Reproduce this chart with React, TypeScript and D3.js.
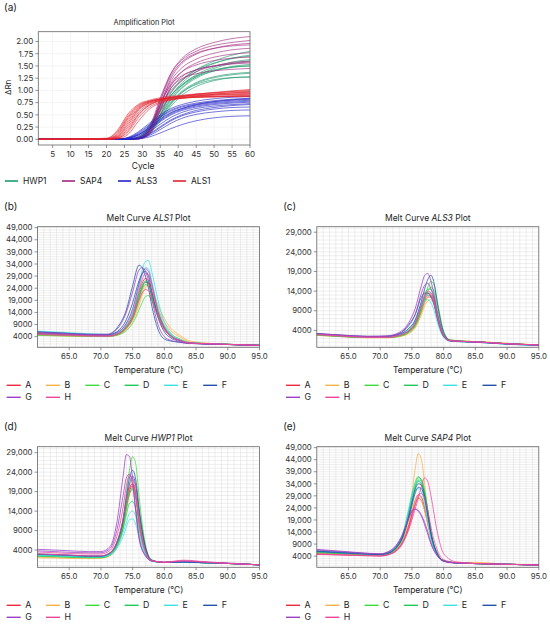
import * as d3 from "d3";

const FONT = "Inter, 'Noto Sans', Arial, sans-serif";

// ---------- (a) Amplification plot ----------
const CYCLES = [1, 20, 23, 26, 29, 32, 35, 38, 41, 45, 50, 55, 60];

const HWP1_RUNS = [
  [0, 0, 0, 0, 0.04, 0.25, 0.6, 0.9, 1.1, 1.28, 1.4, 1.47, 1.5],
  [0, 0, 0, 0, 0.03, 0.2, 0.52, 0.85, 1.1, 1.32, 1.48, 1.58, 1.63],
  [0, 0, 0, 0, 0.05, 0.3, 0.68, 1.0, 1.22, 1.42, 1.56, 1.65, 1.7],
  [0, 0, 0, 0, 0.02, 0.16, 0.45, 0.76, 0.98, 1.16, 1.28, 1.34, 1.37],
  [0, 0, 0, 0, 0.03, 0.22, 0.56, 0.9, 1.15, 1.38, 1.55, 1.66, 1.72],
  [0, 0, 0, 0, 0.01, 0.12, 0.38, 0.68, 0.9, 1.08, 1.2, 1.26, 1.28],
  [0, 0, 0, 0, 0.04, 0.27, 0.64, 0.97, 1.2, 1.42, 1.6, 1.72, 1.8],
  [0, 0, 0, 0, 0.02, 0.18, 0.48, 0.8, 1.04, 1.25, 1.4, 1.49, 1.53],
  [0, 0, 0, 0, 0.03, 0.24, 0.58, 0.9, 1.12, 1.3, 1.42, 1.48, 1.5],
  [0, 0, 0, 0, 0.01, 0.14, 0.42, 0.72, 0.95, 1.14, 1.26, 1.32, 1.35],
  [0, 0, 0, 0, 0.03, 0.2, 0.5, 0.82, 1.06, 1.28, 1.45, 1.55, 1.6],
  [0, 0, 0, 0, 0.02, 0.15, 0.44, 0.74, 0.96, 1.12, 1.22, 1.26, 1.27],
];

const SAP4_RUNS = [
  [0, 0, 0, 0, 0.02, 0.2, 0.8, 1.35, 1.65, 1.85, 1.98, 2.06, 2.1],
  [0, 0, 0, 0, 0.03, 0.25, 0.85, 1.35, 1.62, 1.8, 1.92, 1.98, 2.02],
  [0, 0, 0, 0, 0.01, 0.15, 0.7, 1.25, 1.55, 1.74, 1.86, 1.93, 1.96],
  [0, 0, 0, 0, 0.02, 0.2, 0.78, 1.3, 1.58, 1.76, 1.86, 1.91, 1.93],
  [0, 0, 0, 0, 0.02, 0.18, 0.72, 1.2, 1.46, 1.64, 1.76, 1.83, 1.86],
  [0, 0, 0, 0, 0.01, 0.12, 0.6, 1.1, 1.38, 1.56, 1.68, 1.74, 1.77],
  [0, 0, 0, 0, 0.02, 0.2, 0.7, 1.15, 1.38, 1.52, 1.61, 1.66, 1.68],
  [0, 0, 0, 0, 0.01, 0.14, 0.6, 1.05, 1.28, 1.42, 1.5, 1.54, 1.56],
  [0, 0, 0, 0, 0.02, 0.18, 0.65, 1.05, 1.24, 1.34, 1.4, 1.43, 1.45],
  [0, 0, 0, 0, 0.03, 0.22, 0.72, 1.12, 1.3, 1.42, 1.5, 1.55, 1.58],
  [0, 0, 0, 0, 0.01, 0.1, 0.5, 0.95, 1.2, 1.38, 1.5, 1.57, 1.6],
];

const ALS3_RUNS = [
  [0, 0, 0, 0.02, 0.1, 0.25, 0.42, 0.55, 0.63, 0.7, 0.75, 0.78, 0.8],
  [0, 0, 0, 0.03, 0.14, 0.3, 0.47, 0.6, 0.68, 0.74, 0.79, 0.82, 0.84],
  [0, 0, 0, 0.01, 0.07, 0.2, 0.36, 0.5, 0.59, 0.66, 0.71, 0.74, 0.76],
  [0, 0, 0, 0.04, 0.16, 0.33, 0.5, 0.63, 0.71, 0.78, 0.83, 0.86, 0.88],
  [0, 0, 0, 0.02, 0.09, 0.22, 0.38, 0.52, 0.61, 0.68, 0.73, 0.76, 0.78],
  [0, 0, 0, 0.01, 0.05, 0.16, 0.31, 0.45, 0.55, 0.63, 0.68, 0.71, 0.73],
  [0, 0, 0, 0.03, 0.12, 0.28, 0.45, 0.58, 0.66, 0.72, 0.77, 0.8, 0.82],
  [0, 0, 0, 0, 0.03, 0.12, 0.26, 0.4, 0.5, 0.59, 0.65, 0.69, 0.71],
  [0, 0, 0, 0.02, 0.1, 0.24, 0.4, 0.54, 0.63, 0.71, 0.77, 0.81, 0.83],
  [0, 0, 0, 0, 0.01, 0.05, 0.13, 0.22, 0.3, 0.38, 0.44, 0.47, 0.48],
  [0, 0, 0, 0, 0.02, 0.08, 0.2, 0.33, 0.43, 0.51, 0.56, 0.59, 0.6],
  [0, 0, 0, 0, 0.02, 0.1, 0.24, 0.38, 0.48, 0.56, 0.62, 0.65, 0.66],
];

const ALS1_RUNS = [
  [0, 0.01, 0.12, 0.45, 0.68, 0.78, 0.83, 0.86, 0.88, 0.9, 0.92, 0.93, 0.94],
  [0, 0.02, 0.18, 0.52, 0.72, 0.8, 0.85, 0.88, 0.9, 0.93, 0.95, 0.97, 0.98],
  [0, 0, 0.08, 0.38, 0.64, 0.76, 0.81, 0.84, 0.86, 0.88, 0.9, 0.91, 0.92],
  [0, 0, 0.05, 0.3, 0.6, 0.75, 0.82, 0.86, 0.89, 0.92, 0.95, 0.98, 1.0],
  [0, 0, 0.03, 0.22, 0.52, 0.7, 0.78, 0.82, 0.85, 0.87, 0.88, 0.89, 0.9],
  [0, 0, 0.02, 0.15, 0.45, 0.66, 0.76, 0.81, 0.84, 0.86, 0.87, 0.88, 0.88],
  [0, 0.01, 0.1, 0.42, 0.66, 0.77, 0.82, 0.85, 0.87, 0.89, 0.91, 0.92, 0.93],
  [0, 0, 0.01, 0.1, 0.38, 0.62, 0.74, 0.8, 0.84, 0.88, 0.92, 0.95, 0.97],
  [0, 0.02, 0.15, 0.48, 0.7, 0.78, 0.82, 0.84, 0.85, 0.86, 0.87, 0.87, 0.87],
  [0, 0, 0.04, 0.26, 0.56, 0.72, 0.8, 0.85, 0.88, 0.91, 0.93, 0.95, 0.96],
  [0, 0, 0.02, 0.18, 0.5, 0.7, 0.8, 0.85, 0.88, 0.92, 0.96, 0.99, 1.02],
  [0, 0.01, 0.06, 0.34, 0.62, 0.74, 0.79, 0.82, 0.84, 0.86, 0.87, 0.88, 0.89],
];

const AMP_GENES = ["HWP1", "SAP4", "ALS3", "ALS1"];
const AMP_COLORS = ["#1d9a6c", "#a3267f", "#2424c8", "#e2232f"];
const AMP_RUNS = [HWP1_RUNS, SAP4_RUNS, ALS3_RUNS, ALS1_RUNS];
const AMP_X_TICKS = [5, 10, 15, 20, 25, 30, 35, 40, 45, 50, 55, 60];
const AMP_Y_TICKS = [0, 0.25, 0.5, 0.75, 1, 1.25, 1.5, 1.75, 2];

// ---------- (b)-(e) Melt curves (values in thousands) ----------
const SAMPLES = ["A", "B", "C", "D", "E", "F", "G", "H"];
const SAMPLE_COLORS = ["#ee2a3a", "#f7b24a", "#3ddc3d", "#22c95a", "#3fe2e2", "#2452a8", "#9b3fc4", "#f0479d"];
const CURVE_SAMPLE = [0, 0, 1, 1, 2, 2, 3, 3, 4, 4, 5, 5, 6, 6, 7, 7];

const TEMPS_ALS1 = [60, 64, 68, 71, 72.5, 74, 75, 76, 76.5, 77, 77.5, 78, 79, 80, 81, 82.5, 84, 88, 95];
const MELT_ALS1 = [
  [5.2, 4.8, 4.4, 4.3, 5.0, 8, 12.5, 22, 26, 28, 27, 22, 13, 7.5, 4.5, 2.5, 1.4, 1.0, 0.4],
  [5.0, 4.6, 4.3, 4.2, 4.8, 7.5, 11.5, 20, 24, 26.5, 26, 21.5, 12.5, 7, 4.2, 2.4, 1.4, 1.0, 0.4],
  [4.6, 4.3, 4.1, 4.1, 4.6, 7, 10.5, 17, 21, 24, 25, 23, 17, 11.5, 7.5, 4.5, 2.2, 1.1, 0.4],
  [4.8, 4.4, 4.2, 4.2, 4.7, 7.3, 11, 18, 22.5, 25, 25.5, 22.5, 15.5, 10, 6.5, 3.8, 1.8, 1.0, 0.4],
  [4.5, 4.3, 4.1, 4.0, 4.5, 6.5, 9.5, 15, 18, 20.5, 21, 19, 13.5, 8.5, 5.2, 3, 1.6, 1.0, 0.4],
  [5.0, 4.6, 4.3, 4.2, 4.8, 7.5, 11.5, 19.5, 23.5, 25.5, 25, 21, 12.5, 7.3, 4.3, 2.4, 1.4, 1.0, 0.4],
  [5.3, 4.9, 4.5, 4.4, 5.1, 8.2, 12.5, 21, 25, 27, 26.5, 22, 13.5, 7.7, 4.6, 2.5, 1.4, 1.0, 0.4],
  [5.1, 4.7, 4.4, 4.3, 5.0, 8, 12, 20.5, 24.5, 26.5, 26, 21.5, 13, 7.5, 4.4, 2.5, 1.4, 1.0, 0.4],
  [6.3, 5.8, 5.2, 4.9, 5.8, 9.5, 15, 26, 31.5, 35, 35.5, 31, 19, 10, 5.5, 2.8, 1.5, 1.0, 0.4],
  [6.0, 5.5, 5.0, 4.7, 5.5, 9, 14, 24, 29.5, 32.5, 32, 27, 16, 8.5, 4.8, 2.5, 1.4, 1.0, 0.4],
  [5.6, 5.2, 4.8, 4.7, 6, 11, 18, 27, 30, 31, 29, 23, 12, 6, 3.5, 2, 1.3, 0.9, 0.4],
  [6.0, 5.5, 5.0, 5.0, 7.5, 15, 25, 33.5, 32.5, 29, 24, 17, 7, 3, 2.2, 1.6, 1.2, 0.9, 0.4],
  [5.5, 5.1, 4.6, 4.5, 5.6, 9.5, 15.5, 25.5, 30, 32, 31, 26, 14.5, 7.5, 4.2, 2.3, 1.3, 0.9, 0.4],
  [5.9, 5.4, 4.9, 4.9, 7, 14, 22.5, 31.5, 32.5, 31, 27, 20, 9, 4, 2.5, 1.7, 1.2, 0.9, 0.4],
  [5.2, 4.8, 4.4, 4.3, 5.2, 8.5, 13.5, 23, 27.5, 30, 29.5, 25, 14.5, 8, 4.5, 2.5, 1.4, 1.0, 0.4],
  [4.9, 4.5, 4.2, 4.1, 4.8, 7.5, 11.5, 19, 22, 23.5, 23, 19.5, 12, 7, 4.2, 2.4, 1.4, 1.0, 0.4],
];

const TEMPS_ALS3 = [60, 64, 68, 71, 73, 74.5, 75.5, 76.5, 77, 77.5, 78, 78.5, 79, 80, 81, 83, 86, 90, 95];
const MELT_ALS3 = [
  [3.0, 2.6, 2.3, 2.3, 2.7, 3.8, 5.5, 9.5, 11.8, 13, 12.8, 11, 7.5, 2.6, 1.4, 1.2, 1.0, 0.6, 0.3],
  [2.9, 2.5, 2.2, 2.2, 2.6, 3.6, 5.2, 9, 11.2, 12.5, 12.5, 10.8, 7.5, 2.7, 1.4, 1.2, 1.0, 0.6, 0.3],
  [2.7, 2.4, 2.1, 2.1, 2.4, 3.2, 4.6, 8, 10.2, 11.5, 11.8, 10.5, 7.5, 2.8, 1.5, 1.3, 1.1, 0.7, 0.3],
  [2.8, 2.5, 2.2, 2.2, 2.5, 3.4, 4.9, 8.6, 11, 12.5, 13, 11.8, 8.5, 3.2, 1.6, 1.3, 1.1, 0.7, 0.3],
  [2.9, 2.5, 2.2, 2.2, 2.6, 3.6, 5.3, 9.5, 12.5, 15, 16.5, 15.5, 11.5, 3.8, 1.6, 1.3, 1.0, 0.6, 0.3],
  [2.8, 2.4, 2.2, 2.2, 2.5, 3.5, 5, 9, 11.8, 14, 15, 14, 10, 3.3, 1.5, 1.2, 1.0, 0.6, 0.3],
  [3.0, 2.6, 2.3, 2.3, 2.8, 4.0, 6, 10.5, 13, 14.5, 14.5, 12.5, 8.5, 2.8, 1.4, 1.2, 1.0, 0.6, 0.3],
  [2.9, 2.5, 2.2, 2.2, 2.7, 3.8, 5.6, 9.8, 12.2, 13.5, 13.5, 11.8, 8, 2.7, 1.4, 1.2, 1.0, 0.6, 0.3],
  [3.1, 2.7, 2.4, 2.4, 2.9, 4.2, 6.2, 10, 11.5, 11.8, 11, 9, 6, 2.2, 1.3, 1.1, 0.9, 0.5, 0.2],
  [3.0, 2.6, 2.3, 2.4, 3.0, 4.5, 6.8, 11, 12.5, 13, 12.5, 10.5, 7, 2.4, 1.3, 1.1, 0.9, 0.5, 0.2],
  [3.2, 2.8, 2.5, 2.5, 3.2, 5.5, 8, 12.5, 13.5, 13.5, 12.5, 10.5, 7, 2.4, 1.3, 1.1, 0.9, 0.5, 0.2],
  [3.1, 2.7, 2.4, 2.5, 3.0, 4.5, 6.5, 11.5, 14.5, 17, 18, 16, 11, 3.5, 1.5, 1.2, 1.0, 0.6, 0.3],
  [3.2, 2.8, 2.5, 2.6, 3.5, 6, 9.5, 15.5, 18, 18.5, 16.5, 13, 8.5, 2.8, 1.4, 1.2, 1.0, 0.6, 0.3],
  [3.1, 2.7, 2.4, 2.5, 3.2, 5.2, 8, 13.5, 15.5, 16, 14.5, 12, 8, 2.7, 1.4, 1.2, 1.0, 0.6, 0.3],
  [2.9, 2.5, 2.2, 2.2, 2.7, 3.8, 5.6, 10, 12.5, 13.5, 13, 11, 7.5, 2.6, 1.4, 1.2, 1.0, 0.6, 0.3],
  [3.0, 2.6, 2.3, 2.3, 2.8, 4.0, 6, 10.5, 13, 14, 13.5, 11.5, 7.8, 2.7, 1.4, 1.2, 1.0, 0.6, 0.3],
];

const TEMPS_HWP1 = [60, 64, 68, 70, 71.5, 72.5, 73.5, 74, 74.5, 75, 75.5, 76, 77, 78, 80, 83, 87, 91, 95];
const MELT_HWP1 = [
  [2.8, 2.5, 2.3, 2.3, 3.2, 5.5, 11, 15.5, 19.5, 21, 18.5, 12, 4, 1.3, 0.8, 0.9, 0.7, 0.5, 0.2],
  [2.6, 2.4, 2.2, 2.2, 3.0, 5.2, 10.5, 15, 19, 20.5, 18, 11.5, 3.8, 1.3, 0.8, 0.9, 0.7, 0.5, 0.2],
  [2.0, 1.9, 1.8, 1.9, 2.6, 4.5, 9.5, 14, 18, 20, 18.5, 13, 4.5, 1.4, 0.8, 0.9, 0.7, 0.5, 0.2],
  [2.2, 2.0, 1.9, 2.0, 2.8, 5.0, 10.5, 15.5, 20, 22, 20, 14, 4.8, 1.4, 0.8, 0.9, 0.7, 0.5, 0.2],
  [2.5, 2.3, 2.1, 2.1, 2.9, 5.5, 12, 18.5, 24.5, 28, 26, 18, 5.5, 1.5, 0.8, 0.9, 0.7, 0.5, 0.2],
  [2.4, 2.2, 2.0, 2.0, 2.7, 4.8, 10, 14.5, 18.5, 20, 18, 12, 4, 1.3, 0.8, 0.9, 0.7, 0.5, 0.2],
  [2.6, 2.4, 2.2, 2.2, 3.0, 5.3, 10.5, 15, 18.5, 19.5, 17, 11, 3.8, 1.3, 0.8, 0.9, 0.7, 0.5, 0.2],
  [2.5, 2.3, 2.1, 2.1, 2.9, 5.0, 9.5, 13, 16, 16.5, 14.5, 9.5, 3.4, 1.2, 0.8, 0.9, 0.7, 0.5, 0.2],
  [2.7, 2.5, 2.3, 2.3, 3.0, 4.8, 8.5, 11, 13.5, 14, 12.5, 8.5, 3.0, 1.2, 0.8, 0.8, 0.7, 0.5, 0.2],
  [2.6, 2.4, 2.2, 2.2, 2.8, 4.4, 7.5, 9.8, 11.8, 12, 10.5, 7.5, 2.8, 1.1, 0.8, 0.8, 0.7, 0.5, 0.2],
  [3.0, 2.8, 2.5, 2.5, 3.4, 6, 12, 17.5, 22.5, 24.5, 22, 15, 5, 1.4, 0.8, 0.9, 0.7, 0.5, 0.2],
  [2.9, 2.7, 2.4, 2.4, 3.3, 5.8, 11.5, 16.5, 21, 23, 20.5, 14, 4.6, 1.4, 0.8, 0.9, 0.7, 0.5, 0.2],
  [4.2, 3.9, 3.6, 3.6, 5, 11, 23, 28.5, 28, 22, 14, 7, 2.5, 1.2, 0.9, 1.2, 0.9, 0.6, 0.2],
  [3.8, 3.5, 3.3, 3.3, 4.5, 9, 18, 22.5, 23.5, 20.5, 14, 7.5, 2.6, 1.2, 0.9, 1.1, 0.8, 0.5, 0.2],
  [3.5, 3.2, 3.0, 3.0, 4.0, 7.5, 15, 20.5, 23, 22.5, 18, 11, 3.6, 1.3, 0.9, 1.4, 0.9, 0.5, 0.2],
  [3.0, 2.8, 2.5, 2.5, 3.4, 6, 12, 16.5, 20, 21, 18, 12, 4, 1.3, 0.8, 1.2, 0.8, 0.5, 0.2],
];

const TEMPS_SAP4 = [60, 64, 68, 70, 71.5, 72.5, 73.5, 74.5, 75, 75.5, 76, 76.5, 77, 77.5, 78, 79, 80, 82, 85, 90, 95];
const MELT_SAP4 = [
  [5.0, 4.7, 4.3, 4.2, 5.0, 6.5, 10, 17, 22, 27, 29.5, 28.5, 24, 18, 12, 5, 2, 1.2, 0.9, 0.6, 0.3],
  [4.8, 4.5, 4.2, 4.1, 4.8, 6.2, 9.5, 16, 21, 25.5, 28, 27, 23, 17.5, 11.5, 4.8, 2, 1.2, 0.9, 0.6, 0.3],
  [5.5, 5.0, 4.6, 4.5, 5.5, 7.5, 12, 22, 30, 40, 46.5, 44, 34, 22, 13, 5, 2.2, 1.3, 1.4, 0.7, 0.3],
  [5.2, 4.8, 4.4, 4.3, 5.1, 6.8, 10.5, 18, 23, 27, 28.5, 27, 23, 17, 11, 4.6, 2, 1.2, 1.1, 0.6, 0.3],
  [5.6, 5.1, 4.6, 4.4, 5.2, 7.2, 11.5, 21, 27, 33, 36.5, 36, 31, 23, 14, 5, 2.1, 1.2, 0.9, 0.6, 0.3],
  [5.4, 4.9, 4.5, 4.3, 5.1, 7, 11, 20, 26, 32, 35.5, 35.5, 31, 23, 14, 5, 2.1, 1.2, 0.9, 0.6, 0.3],
  [6.0, 5.4, 4.8, 4.6, 5.6, 7.8, 12.5, 23, 29, 34.5, 37, 35, 29, 21, 13, 4.8, 2, 1.2, 0.9, 0.6, 0.3],
  [5.8, 5.2, 4.7, 4.5, 5.4, 7.4, 11.8, 21.5, 27, 32.5, 35, 34, 30, 22.5, 14, 5, 2.1, 1.2, 0.9, 0.6, 0.3],
  [6.2, 5.6, 5.0, 4.8, 5.8, 8, 13, 24, 30, 34, 35.5, 33, 27, 19, 11.5, 4.5, 2, 1.2, 0.9, 0.6, 0.3],
  [5.9, 5.3, 4.8, 4.6, 5.5, 7.5, 12, 22, 27, 31, 32, 30.5, 26, 19, 12, 4.6, 2, 1.2, 0.9, 0.6, 0.3],
  [6.1, 5.5, 4.9, 4.7, 5.6, 7.6, 12, 21, 26.5, 31.5, 34, 33.5, 29, 21.5, 13.5, 5, 2.1, 1.2, 0.9, 0.6, 0.3],
  [5.9, 5.3, 4.8, 4.6, 5.4, 7.3, 11.5, 20, 25, 30, 32.5, 32, 28, 21, 13, 4.8, 2, 1.2, 0.9, 0.6, 0.3],
  [6.8, 6.0, 5.2, 5.0, 6.2, 8.5, 13, 20, 23, 23.5, 22.5, 20.5, 17, 13, 9, 4, 1.8, 1.1, 0.9, 0.6, 0.3],
  [6.5, 5.8, 5.1, 4.9, 6.0, 8.2, 12.5, 19.5, 22.5, 23.5, 23, 21, 18, 14, 9.5, 4.2, 1.9, 1.1, 0.9, 0.6, 0.3],
  [5.0, 4.6, 4.3, 4.2, 4.9, 6.3, 9.5, 15, 19, 23.5, 28, 33, 36.5, 35, 29, 14, 5, 1.6, 1.0, 0.6, 0.3],
  [4.7, 4.4, 4.1, 4.0, 4.7, 6, 9, 15.5, 20, 25, 29, 30, 28, 23, 16, 6.5, 2.5, 1.3, 0.9, 0.6, 0.3],
];

const TEMP_TICKS = [65, 70, 75, 80, 85, 90, 95];
const Y_TICKS_49K = [4000, 9000, 14000, 19000, 24000, 29000, 34000, 39000, 44000, 49000];
const Y_TICKS_29K = [4000, 9000, 14000, 19000, 24000, 29000];

const fmtY = (v: number) => (v >= 10000 ? d3.format(",")(v) : String(v));

function AmpPlot() {
  const left = 38.3, right = 250, top = 31.7, bottom = 145;
  const x = d3.scaleLinear().domain([1, 60]).range([left, right]);
  const y = d3.scaleLinear().domain([-0.116, 2.2]).range([bottom, top]);
  const line = d3
    .line<number>()
    .x((_, i) => x(CYCLES[i]))
    .y((d) => y(d))
    .curve(d3.curveMonotoneX);
  const legendX = [5, 62, 118, 173];

  return (
    <g fontFamily={FONT}>
      <text x={4} y={11} fontSize={10} fill="#222">(a)</text>
      <text x={(left + right) / 2} y={25} fontSize={7.4} textAnchor="middle" fill="#222">Amplification Plot</text>
      {AMP_X_TICKS.map((t) => (
        <line key={"gx" + t} x1={x(t)} x2={x(t)} y1={top} y2={bottom} stroke="#ececec" strokeWidth={0.6} />
      ))}
      {AMP_Y_TICKS.map((t) => (
        <line key={"gy" + t} x1={left} x2={right} y1={y(t)} y2={y(t)} stroke="#ececec" strokeWidth={0.6} />
      ))}
      {AMP_RUNS.map((runs, g) =>
        runs.map((r, i) => (
          <path key={g + "-" + i} d={line(r) ?? ""} fill="none" stroke={AMP_COLORS[g]} strokeWidth={0.8} strokeOpacity={0.78} />
        ))
      )}
      <rect x={left} y={top} width={right - left} height={bottom - top} fill="none" stroke="#666" strokeWidth={0.8} />
      {AMP_X_TICKS.map((t) => (
        <g key={"tx" + t}>
          <line x1={x(t)} x2={x(t)} y1={bottom} y2={bottom + 3} stroke="#666" strokeWidth={0.7} />
          <text x={x(t)} y={bottom + 12} fontSize={8} textAnchor="middle" fill="#333">{t}</text>
        </g>
      ))}
      {AMP_Y_TICKS.map((t) => (
        <g key={"ty" + t}>
          <line x1={left - 3} x2={left} y1={y(t)} y2={y(t)} stroke="#666" strokeWidth={0.7} />
          <text x={left - 5} y={y(t) + 2.8} fontSize={8} textAnchor="end" fill="#333">{t.toFixed(2)}</text>
        </g>
      ))}
      <text x={(left + right) / 2 - 1} y={169} fontSize={8.5} textAnchor="middle" fill="#222">Cycle</text>
      <text transform={`translate(11,${(top + bottom) / 2 - 1}) rotate(-90)`} fontSize={8} textAnchor="middle" fill="#222">ΔRn</text>
      {AMP_GENES.map((gname, i) => (
        <g key={gname}>
          <line x1={legendX[i]} x2={legendX[i] + 13} y1={181} y2={181} stroke={AMP_COLORS[i]} strokeWidth={1.6} />
          <text x={legendX[i] + 18} y={184} fontSize={8.5} fill="#222">{gname}</text>
        </g>
      ))}
    </g>
  );
}

interface MeltProps {
  x0: number;
  y0: number;
  letter: string;
  gene: string;
  temps: number[];
  curves: number[][];
  yDomain: [number, number];
  yTicks: number[];
}

function MeltPlot({ x0, y0, letter, gene, temps, curves, yDomain, yTicks }: MeltProps) {
  const left = x0 + 37.5, right = x0 + 259.5, top = y0, bottom = y0 + 120.6;
  const x = d3.scaleLinear().domain([60, 95]).range([left, right]);
  const y = d3.scaleLinear().domain(yDomain).range([bottom, top]);
  const line = d3
    .line<number>()
    .x((_, i) => x(temps[i]))
    .y((d) => y(d * 1000))
    .curve(d3.curveMonotoneX);
  const vGrid = d3.range(61, 95, 1);
  const hGrid = d3.range(Math.ceil(yDomain[0] / 1000) * 1000, yDomain[1], 1000);

  return (
    <g fontFamily={FONT}>
      <text x={x0 + 4} y={top - 17} fontSize={10} fill="#222">{letter}</text>
      <text x={(left + right) / 2} y={top - 5.5} fontSize={8.5} textAnchor="middle" fill="#222">
        Melt Curve <tspan fontStyle="italic">{gene}</tspan> Plot
      </text>
      {vGrid.map((t) => (
        <line key={"v" + t} x1={x(t)} x2={x(t)} y1={top} y2={bottom} stroke="#dcdcdc" strokeWidth={0.5} />
      ))}
      {hGrid.map((t) => (
        <line key={"h" + t} x1={left} x2={right} y1={y(t)} y2={y(t)} stroke="#dcdcdc" strokeWidth={0.5} />
      ))}
      {curves.map((c, i) => (
        <path key={i} d={line(c) ?? ""} fill="none" stroke={SAMPLE_COLORS[CURVE_SAMPLE[i]]} strokeWidth={0.9} strokeOpacity={0.85} />
      ))}
      <rect x={left} y={top} width={right - left} height={bottom - top} fill="none" stroke="#666" strokeWidth={0.8} />
      {TEMP_TICKS.map((t) => (
        <g key={"tx" + t}>
          <line x1={x(t)} x2={x(t)} y1={bottom} y2={bottom + 3} stroke="#666" strokeWidth={0.7} />
          <text x={x(t)} y={bottom + 12} fontSize={7.8} textAnchor="middle" fill="#333">{t.toFixed(1)}</text>
        </g>
      ))}
      {yTicks.map((t) => (
        <g key={"ty" + t}>
          <line x1={left - 3} x2={left} y1={y(t)} y2={y(t)} stroke="#666" strokeWidth={0.7} />
          <text x={left - 5} y={y(t) + 2.7} fontSize={7.8} textAnchor="end" fill="#333">{fmtY(t)}</text>
        </g>
      ))}
      <text x={(left + right) / 2} y={bottom + 26} fontSize={8.5} textAnchor="middle" fill="#222">Temperature (°C)</text>
      {SAMPLES.map((s, i) => {
        const lx = x0 + 6.7 + (i % 6) * 39.3;
        const ly = bottom + (i < 6 ? 38 : 50);
        return (
          <g key={s}>
            <line x1={lx} x2={lx + 14} y1={ly} y2={ly} stroke={SAMPLE_COLORS[i]} strokeWidth={1.4} />
            <text x={lx + 18.5} y={ly + 3} fontSize={8.8} fill="#222">{s}</text>
          </g>
        );
      })}
    </g>
  );
}

export default function App() {
  return (
    <svg width={550} height={627} style={{ display: "block", position: "absolute", left: 0, top: 0, background: "#fff" }}>
      <AmpPlot />
      <MeltPlot x0={0} y0={226.7} letter="(b)" gene="ALS1" temps={TEMPS_ALS1} curves={MELT_ALS1} yDomain={[-400, 49400]} yTicks={Y_TICKS_49K} />
      <MeltPlot x0={279.3} y0={226.7} letter="(c)" gene="ALS3" temps={TEMPS_ALS3} curves={MELT_ALS3} yDomain={[-300, 30400]} yTicks={Y_TICKS_29K} />
      <MeltPlot x0={0} y0={446.7} letter="(d)" gene="HWP1" temps={TEMPS_HWP1} curves={MELT_HWP1} yDomain={[-430, 30540]} yTicks={Y_TICKS_29K} />
      <MeltPlot x0={279.3} y0={446.7} letter="(e)" gene="SAP4" temps={TEMPS_SAP4} curves={MELT_SAP4} yDomain={[-650, 49400]} yTicks={Y_TICKS_49K} />
    </svg>
  );
}
